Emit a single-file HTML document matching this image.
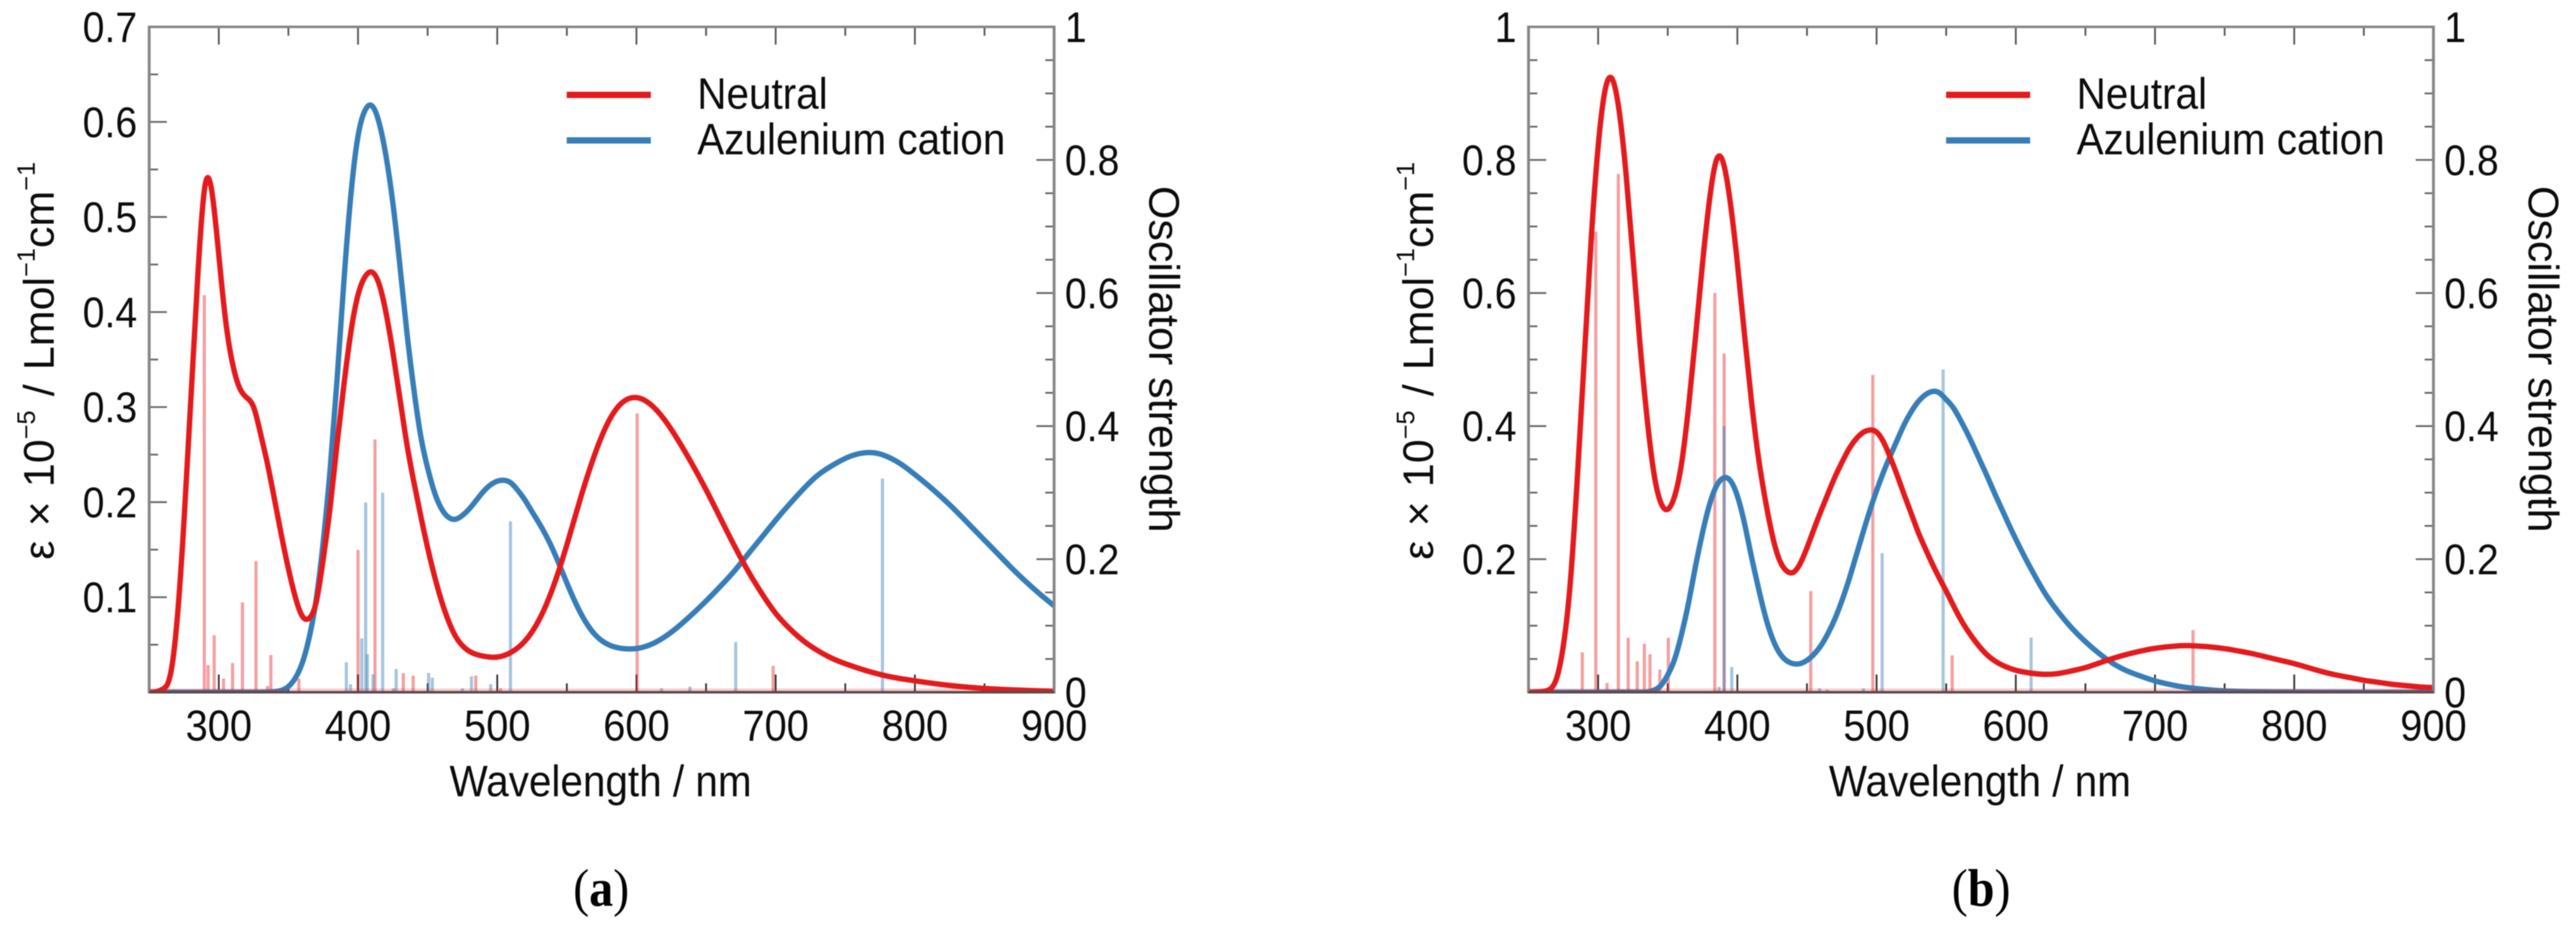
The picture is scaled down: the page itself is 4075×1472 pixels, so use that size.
<!DOCTYPE html>
<html lang="en">
<head>
<meta charset="utf-8">
<title>Absorption spectra</title>
<style>
html,body{margin:0;padding:0;background:#fff;width:4075px;height:1472px;overflow:hidden}
svg{display:block;filter:blur(0.9px)}
text{font-family:"Liberation Sans",Arial,sans-serif;fill:#0c0c0c}
.cap{font-family:"Liberation Serif","Times New Roman",serif;fill:#000}
</style>
</head>
<body>
<svg id="figure" xmlns="http://www.w3.org/2000/svg" width="4075" height="1472" viewBox="0 0 4075 1472">
<rect width="4075" height="1472" fill="#fff"/>
</svg>
<script>
// ---------- shared axis data ----------
const xTickLabels = [300, 400, 500, 600, 700, 800, 900];
const rightTickLabels = ['0', '0.2', '0.4', '0.6', '0.8', '1'];
const rightTickValues = [0, 0.2, 0.4, 0.6, 0.8, 1];
const leftTickLabelsA = ['0.1', '0.2', '0.3', '0.4', '0.5', '0.6', '0.7'];
const leftTickValuesA = [0.1, 0.2, 0.3, 0.4, 0.5, 0.6, 0.7];
const leftTickLabelsB = ['0.2', '0.4', '0.6', '0.8', '1'];
const leftTickValuesB = [0.2, 0.4, 0.6, 0.8, 1];

// ---------- panel (a) curves ----------
const neutralWavelengthsA = [250,255,260,265,270,275,280,285,290,295,300,305,310,315,320,325,330,335,340,345,350,355,360,365,370,375,380,385,390,395,400,405,410,415,420,425,430,435,440,445,450,455,460,465,470,475,480,490,500,510,520,530,540,550,560,570,580,590,600,610,620,630,640,650,660,670,680,690,700,710,720,730,740,750,760,780,800,820,850,900];
const neutralValuesA = [0,0.0005,0.0035,0.017,0.075,0.18,0.31,0.44,0.532,0.527,0.46,0.39,0.345,0.32,0.31,0.3,0.272,0.24,0.203,0.165,0.13,0.1,0.08,0.078,0.095,0.14,0.195,0.262,0.325,0.38,0.418,0.437,0.442,0.43,0.4,0.358,0.31,0.262,0.222,0.186,0.152,0.122,0.096,0.075,0.059,0.049,0.043,0.038,0.037,0.042,0.054,0.076,0.11,0.155,0.205,0.25,0.285,0.305,0.31,0.303,0.287,0.265,0.24,0.213,0.184,0.155,0.128,0.104,0.083,0.067,0.054,0.044,0.036,0.03,0.025,0.017,0.012,0.008,0.004,0.001];
const cationWavelengthsA = [250,300,330,340,345,350,355,360,365,370,375,380,385,390,395,400,405,410,415,420,425,430,435,440,445,450,455,460,465,470,475,480,485,490,495,500,505,510,515,520,525,530,540,550,560,570,580,590,600,610,620,630,640,650,660,670,680,690,700,710,720,730,740,750,760,770,780,790,800,810,820,830,840,850,860,870,880,890,900];
const cationValuesA = [0,0,0,0.0005,0.002,0.006,0.015,0.031,0.058,0.098,0.158,0.235,0.33,0.435,0.525,0.585,0.612,0.617,0.6,0.565,0.515,0.45,0.38,0.32,0.27,0.236,0.21,0.193,0.184,0.182,0.186,0.193,0.202,0.211,0.218,0.222,0.223,0.22,0.212,0.202,0.19,0.178,0.15,0.115,0.083,0.061,0.05,0.046,0.046,0.05,0.058,0.069,0.082,0.096,0.111,0.127,0.145,0.163,0.181,0.198,0.214,0.228,0.238,0.246,0.251,0.252,0.248,0.24,0.229,0.217,0.204,0.19,0.175,0.16,0.145,0.13,0.116,0.103,0.091];

// ---------- panel (a) oscillator strengths ----------
const neutralStickWavelengthsA = [289.6,292.3,296.7,303.4,309.9,317,326.7,335,337.4,357.5,400,412.2,432.5,439.6,484.6,502.4,600.5,698.2];
const neutralStickStrengthsA = [0.597,0.041,0.0855,0.0206,0.044,0.135,0.197,0.0095,0.056,0.0206,0.214,0.38,0.0285,0.025,0.025,0.006,0.419,0.0396];
const cationStickWavelengthsA = [391.6,394.6,402.7,405.5,406.7,410.8,417.7,425.4,427.4,450.7,453.4,475,481.5,495.3,509.5,618,638.4,671.3,776.7];
const cationStickStrengthsA = [0.045,0.012,0.081,0.285,0.057,0.027,0.3,0.006,0.035,0.029,0.022,0.006,0.024,0.012,0.257,0.006,0.0085,0.0753,0.321];

// ---------- panel (b) curves ----------
const neutralWavelengthsB = [250,255,260,265,270,275,280,285,290,295,300,305,310,315,320,325,330,335,340,345,350,355,360,365,370,375,380,385,390,395,400,405,410,415,420,425,430,435,440,445,450,455,460,465,470,475,480,485,490,495,500,505,510,515,520,525,530,535,540,545,550,560,570,580,590,600,610,620,630,640,650,660,670,680,690,700,710,720,730,740,750,760,770,780,790,800,810,820,830,840,850,860,870,880,890,900];
const neutralValuesB = [0,0.0003,0.001,0.004,0.02,0.07,0.165,0.32,0.5,0.68,0.82,0.905,0.922,0.875,0.78,0.655,0.525,0.415,0.33,0.285,0.275,0.295,0.345,0.43,0.535,0.645,0.74,0.8,0.795,0.735,0.645,0.54,0.44,0.355,0.29,0.237,0.2,0.183,0.18,0.193,0.217,0.245,0.272,0.298,0.323,0.345,0.365,0.38,0.39,0.394,0.391,0.376,0.352,0.325,0.296,0.268,0.24,0.216,0.193,0.172,0.152,0.111,0.079,0.055,0.041,0.033,0.029,0.027,0.028,0.032,0.037,0.044,0.051,0.057,0.062,0.066,0.0685,0.07,0.0695,0.068,0.0655,0.062,0.058,0.053,0.048,0.043,0.037,0.031,0.026,0.022,0.018,0.015,0.012,0.01,0.008,0.007];
const cationWavelengthsB = [250,300,330,335,340,345,350,355,360,365,370,375,380,385,390,395,400,405,410,415,420,425,430,435,440,445,450,455,460,465,470,475,480,485,490,495,500,505,510,515,520,525,530,535,540,545,550,555,560,565,570,575,580,585,590,595,600,605,610,615,620,630,640,650,660,670,680,690,700,710,720,730,740,750,770,800,900];
const cationValuesB = [0,0,0,0.0003,0.003,0.01,0.026,0.05,0.088,0.135,0.19,0.24,0.282,0.31,0.322,0.318,0.295,0.255,0.205,0.158,0.115,0.082,0.06,0.048,0.043,0.043,0.048,0.057,0.07,0.088,0.11,0.137,0.168,0.203,0.238,0.272,0.303,0.331,0.356,0.38,0.403,0.422,0.437,0.447,0.452,0.45,0.44,0.428,0.41,0.39,0.368,0.345,0.322,0.298,0.275,0.252,0.23,0.209,0.189,0.17,0.152,0.122,0.097,0.076,0.058,0.043,0.032,0.024,0.017,0.012,0.008,0.0055,0.0035,0.002,0.0008,0.0002,0];

// ---------- panel (b) oscillator strengths ----------
const neutralStickWavelengthsB = [288.6,298.3,306.4,314.5,321.6,328.1,333.2,337.2,344.3,350.4,383.8,390.5,452.7,497.3,554.3,727.3];
const neutralStickStrengthsB = [0.06,0.692,0.014,0.779,0.082,0.0465,0.073,0.057,0.034,0.082,0.6,0.509,0.152,0.477,0.0554,0.0934];
const cationStickWavelengthsB = [386.9,390.5,396,459,464.5,490.6,504,547.8,611];
const cationStickStrengthsB = [0.008,0.4,0.038,0.006,0.004,0.006,0.209,0.485,0.082];

const SVGNS = 'http://www.w3.org/2000/svg';
const svgRoot = document.getElementById('figure');
const RED = '#e41a1c';
const BLUE = '#377eb8';
const XMIN = 250, XMAX = 900;
const PLOT_TOP = 42.5, PLOT_BOTTOM = 1094.5, PLOT_WIDTH = 1431.5;

function mk(tag, parent, attrs) {
  const el = document.createElementNS(SVGNS, tag);
  for (const k in attrs) el.setAttribute(k, attrs[k]);
  parent.appendChild(el);
  return el;
}

// Natural cubic spline path through the read points (C2, no visible kinks)
function smoothPath(xs, ys) {
  const n = xs.length;
  const h = [], a = new Array(n).fill(0), b = new Array(n).fill(1), c = new Array(n).fill(0), r = new Array(n).fill(0);
  for (let i = 0; i < n - 1; i++) h.push(xs[i + 1] - xs[i]);
  for (let i = 1; i < n - 1; i++) {
    a[i] = h[i - 1];
    b[i] = 2 * (h[i - 1] + h[i]);
    c[i] = h[i];
    r[i] = 6 * ((ys[i + 1] - ys[i]) / h[i] - (ys[i] - ys[i - 1]) / h[i - 1]);
  }
  for (let i = 1; i < n; i++) {
    const w = a[i] / b[i - 1];
    b[i] -= w * c[i - 1];
    r[i] -= w * r[i - 1];
  }
  const s = new Array(n).fill(0);
  s[n - 1] = r[n - 1] / b[n - 1];
  for (let i = n - 2; i >= 0; i--) s[i] = (r[i] - c[i] * s[i + 1]) / b[i];
  let p = 'M' + xs[0].toFixed(2) + ' ' + ys[0].toFixed(2);
  for (let i = 0; i < n - 1; i++) {
    const slope0 = (ys[i + 1] - ys[i]) / h[i] - h[i] * (2 * s[i] + s[i + 1]) / 6;
    const slope1 = (ys[i + 1] - ys[i]) / h[i] + h[i] * (s[i] + 2 * s[i + 1]) / 6;
    const t = h[i] / 3;
    p += 'C' + (xs[i] + t).toFixed(2) + ' ' + (ys[i] + slope0 * t).toFixed(2) + ' ' +
         (xs[i + 1] - t).toFixed(2) + ' ' + (ys[i + 1] - slope1 * t).toFixed(2) + ' ' +
         xs[i + 1].toFixed(2) + ' ' + ys[i + 1].toFixed(2);
  }
  return p;
}

function drawPanel(id, left, leftMax, leftValues, leftLabels, leftMajorStep, data, capLabel, capX) {
  const right = left + PLOT_WIDTH;
  const xScale = v => left + (v - XMIN) / (XMAX - XMIN) * PLOT_WIDTH;
  const yLeft = v => PLOT_BOTTOM - v / leftMax * (PLOT_BOTTOM - PLOT_TOP);
  const yRight = v => PLOT_BOTTOM - v * (PLOT_BOTTOM - PLOT_TOP);

  const g = mk('g', svgRoot, {});
  
  

  // ticks on x axes (bottom and top), every 50 nm
  for (let w = 300; w <= 850; w += 50) {
    const len = w % 100 === 0 ? 28 : 14;
    const bottomTick = mk('line', g, {x1: xScale(w), x2: xScale(w), y1: PLOT_BOTTOM, y2: PLOT_BOTTOM - len, stroke: '#333', 'stroke-width': 2.8});
    
    
    const topTick = mk('line', g, {x1: xScale(w), x2: xScale(w), y1: PLOT_TOP, y2: PLOT_TOP + len, stroke: '#555', 'stroke-width': 2.8});
    
    
  }

  // left axis ticks, every 0.05
  const leftMinorCount = Math.round(leftMax / 0.05);
  for (let i = 1; i < leftMinorCount; i++) {
    const major = i % leftMajorStep === 0;
    const yy = yLeft(i * 0.05);
    const tick = mk('line', g, {x1: left, x2: left + (major ? 28 : 14), y1: yy, y2: yy, stroke: '#666', 'stroke-width': 2.8});
    
    
  }
  // right axis ticks, every 0.05
  for (let i = 1; i < 20; i++) {
    const major = i % 4 === 0;
    const yy = yRight(i * 0.05);
    const tick = mk('line', g, {x1: right, x2: right - (major ? 28 : 14), y1: yy, y2: yy, stroke: '#666', 'stroke-width': 2.8});
    
    
  }

  // oscillator-strength sticks
  data.neutralStickWl.forEach((w, i) => {
    const stick = mk('line', g, {x1: xScale(w), x2: xScale(w), y1: PLOT_BOTTOM, y2: yRight(data.neutralStickF[i]), stroke: RED, 'stroke-opacity': 0.42, 'stroke-width': 5});
    
    
  });
  data.cationStickWl.forEach((w, i) => {
    const stick = mk('line', g, {x1: xScale(w), x2: xScale(w), y1: PLOT_BOTTOM, y2: yRight(data.cationStickF[i]), stroke: BLUE, 'stroke-opacity': 0.45, 'stroke-width': 5});
    
    
  });

  // clip for curves
  const clip = mk('clipPath', g, {id: 'clip-' + id});
  mk('rect', clip, {x: left, y: PLOT_TOP, width: PLOT_WIDTH, height: PLOT_BOTTOM - PLOT_TOP});
  const curves = mk('g', g, {'clip-path': 'url(#clip-' + id + ')'});
  
  

  const cation = mk('path', curves, {d: smoothPath(data.cationWl.map(xScale), data.cationV.map(yLeft)), fill: 'none', stroke: BLUE, 'stroke-width': 8.5, 'stroke-linejoin': 'round'});
  
  
  const neutral = mk('path', curves, {d: smoothPath(data.neutralWl.map(xScale), data.neutralV.map(yLeft)), fill: 'none', stroke: RED, 'stroke-width': 8.5, 'stroke-linejoin': 'round'});
  
  

  // frame
  const frameLeft = mk('line', g, {x1: left, x2: left, y1: PLOT_TOP - 2, y2: PLOT_BOTTOM + 2, stroke: '#868686', 'stroke-width': 4.5});
  
  
  const frameRight = mk('line', g, {x1: right, x2: right, y1: PLOT_TOP - 2, y2: PLOT_BOTTOM + 2, stroke: '#868686', 'stroke-width': 4.5});
  
  
  const frameTop = mk('line', g, {x1: left, x2: right, y1: PLOT_TOP, y2: PLOT_TOP, stroke: '#868686', 'stroke-width': 4});
  
  
  const frameBottom = mk('line', g, {x1: left, x2: right, y1: PLOT_BOTTOM, y2: PLOT_BOTTOM, stroke: '#5a4a4c', 'stroke-width': 4});
  
  
  const baseBand = mk('line', g, {x1: left, x2: right, y1: PLOT_BOTTOM - 4, y2: PLOT_BOTTOM - 4, stroke: RED, 'stroke-opacity': 0.22, 'stroke-width': 4});
  
  

  // tick labels: horizontal text is 1.09 taller than wide in the reference
  function label(txt, x, y, anchor, name, size) {
    const t = mk('text', g, {transform: 'translate(' + x + ' ' + y + ') scale(1 1.09)', 'text-anchor': anchor, 'font-size': size || 63});
    t.textContent = txt;
    
    
    return t;
  }
  xTickLabels.forEach(v => label(String(v), xScale(v), 1171, 'middle', 'x-tick-label', 63));
  leftValues.forEach((v, i) => label(leftLabels[i], left - 19, yLeft(v) + 24, 'end', 'left-y-tick-label', 62));
  rightTickValues.forEach((v, i) => label(rightTickLabels[i], right + 17, yRight(v) + 24, 'start', 'right-y-tick-label', 62));

  label('Wavelength / nm', left + 714, 1259, 'middle', 'x-axis-title', 64);

  // y titles
  const yt = mk('text', g, {transform: 'translate(' + (left - 151) + ' 570.5) rotate(-90)', 'text-anchor': 'middle', 'font-size': 68, 'word-spacing': 3.5});
  
  
  yt.appendChild(document.createTextNode('ε × 10'));
  const s1 = mk('tspan', yt, {dy: -30, 'font-size': 40}); s1.textContent = '−5';
  const s2 = mk('tspan', yt, {dy: 30}); s2.textContent = ' / Lmol';
  const s3 = mk('tspan', yt, {dy: -30, 'font-size': 40}); s3.textContent = '−1';
  const s4 = mk('tspan', yt, {dy: 30}); s4.textContent = 'cm';
  const s5 = mk('tspan', yt, {dy: -30, 'font-size': 40}); s5.textContent = '−1';

  const rt = mk('text', g, {transform: 'translate(' + (right + 150.5) + ' 568) rotate(90)', 'text-anchor': 'middle', 'font-size': 68});
  rt.textContent = 'Oscillator strength';
  
  

  // legend
  const legendX = left + 660.5;
  const l1 = mk('line', g, {x1: legendX, x2: legendX + 133, y1: 150, y2: 150, stroke: RED, 'stroke-width': 10});
  
  
  const l2 = mk('line', g, {x1: legendX, x2: legendX + 133, y1: 222, y2: 222, stroke: BLUE, 'stroke-width': 10});
  
  
  label('Neutral', left + 867, 172, 'start', 'legend-label-neutral', 64);
  label('Azulenium cation', left + 867, 244, 'start', 'legend-label-cation', 64);

  // caption
  const cap = mk('text', g, {transform: 'translate(' + capX + ' 1432) scale(1 1.1)', 'text-anchor': 'middle', 'font-size': 76, class: 'cap'});
  
  
  cap.appendChild(document.createTextNode('('));
  const capB = mk('tspan', cap, {'font-weight': 'bold'});
  capB.textContent = capLabel;
  cap.appendChild(document.createTextNode(')'));
}

drawPanel('a', 236, 0.7, leftTickValuesA, leftTickLabelsA, 2, {
  neutralWl: neutralWavelengthsA, neutralV: neutralValuesA,
  cationWl: cationWavelengthsA, cationV: cationValuesA,
  neutralStickWl: neutralStickWavelengthsA, neutralStickF: neutralStickStrengthsA,
  cationStickWl: cationStickWavelengthsA, cationStickF: cationStickStrengthsA
}, 'a', 951);

drawPanel('b', 2418, 1, leftTickValuesB, leftTickLabelsB, 4, {
  neutralWl: neutralWavelengthsB, neutralV: neutralValuesB,
  cationWl: cationWavelengthsB, cationV: cationValuesB,
  neutralStickWl: neutralStickWavelengthsB, neutralStickF: neutralStickStrengthsB,
  cationStickWl: cationStickWavelengthsB, cationStickF: cationStickStrengthsB
}, 'b', 3134);
</script>
</body>
</html>
